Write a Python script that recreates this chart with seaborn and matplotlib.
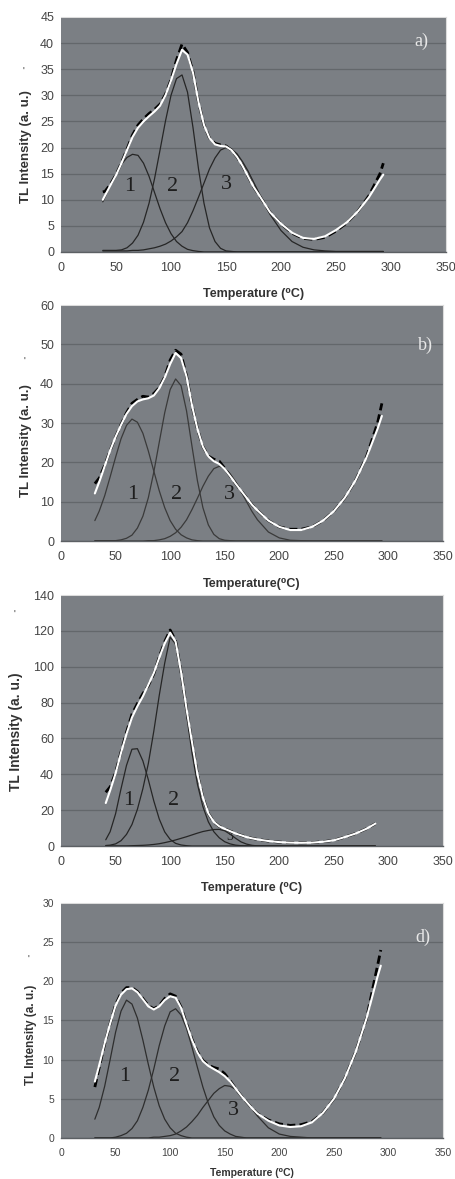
import numpy as np
import pandas as pd
import matplotlib
matplotlib.use("Agg")
import matplotlib.pyplot as plt
import seaborn as sns

# ---- panel a) ----
temp_a = [38, 40, 45, 50, 55, 60, 65, 70, 75, 80, 85, 90, 95, 100, 105, 110, 115, 120, 125, 130,
          135, 140, 145, 150, 155, 160, 165, 170, 175, 180, 190, 200, 210, 220, 230, 240, 250, 260,
          270, 280, 290, 293]
fit_a = [10.0, 10.8, 12.8, 14.7, 17.0, 19.5, 22.0, 23.8, 25.0, 26.0, 26.9, 28.0, 30.0, 32.8, 36.0,
         38.7, 37.8, 34.3, 28.7, 24.3, 21.8, 20.6, 20.3, 20.2, 19.5, 18.2, 16.5, 14.5, 12.5, 10.9,
         7.6, 5.4, 3.7, 2.7, 2.5, 3.0, 4.2, 5.7, 7.8, 10.5, 13.9, 14.8]
exp_a = [11.5, 11.6, 13.0, 14.8, 17.1, 19.7, 22.4, 24.3, 25.5, 26.5, 27.3, 28.3, 30.2, 33.0, 36.8,
         39.8, 38.2, 34.5, 28.7, 24.3, 21.8, 20.8, 20.5, 20.3, 19.5, 18.2, 16.5, 14.5, 12.5, 10.9,
         7.6, 5.4, 3.6, 2.6, 2.4, 2.8, 4.0, 5.6, 7.8, 10.8, 15.0, 17.0]
peak1_a = [9.6, 10.5, 12.8, 14.9, 16.8, 18.1, 18.7, 18.5, 17.0, 14.5, 11.4, 8.3, 5.6, 3.5, 2.0,
           1.1, 0.5, 0.25, 0.1, 0, 0, 0, 0, 0, 0, 0, 0, 0, 0, 0,
           0, 0, 0, 0, 0, 0, 0, 0, 0, 0, 0, 0]
peak2_a = [0.3, 0.3, 0.3, 0.3, 0.4, 0.8, 1.7, 3.2, 5.7, 9.3, 14.0, 19.5, 25.1, 30.0, 33.2,
           33.9, 30.6, 23.8, 15.9, 9.3, 4.6, 2.0, 0.7, 0.2, 0.1, 0, 0, 0, 0, 0,
           0, 0, 0, 0, 0, 0, 0, 0, 0, 0, 0, 0]
peak3_a = [0.2, 0.2, 0.2, 0.2, 0.2, 0.2, 0.3, 0.3, 0.4, 0.6, 0.8, 1.1, 1.5, 2.1, 2.9,
           3.9, 5.6, 7.9, 10.5, 13.2, 15.9, 18.0, 19.5, 20.0, 19.7, 18.8, 17.3, 15.5, 13.4, 11.3,
           7.2, 4.1, 2.0, 0.9, 0.4, 0.2, 0.1, 0.1, 0.1, 0.1, 0.1, 0.1]

# ---- panel b) ----
temp_b = [31, 35, 40, 45, 50, 55, 60, 65, 70, 75, 80, 85, 90, 95, 100, 105, 110, 115, 120, 125,
          130, 135, 140, 145, 150, 155, 160, 165, 170, 175, 180, 190, 200, 210, 220, 230, 240, 250,
          260, 270, 280, 290, 294]
fit_b = [12.1, 15.0, 19.0, 23.0, 26.5, 29.5, 32.3, 34.3, 35.5, 36.0, 36.3, 37.0, 38.8, 41.5, 45.0,
         47.8, 46.5, 41.8, 34.5, 28.5, 24.0, 21.5, 20.3, 19.6, 18.3, 16.5, 14.6, 12.8, 11.0, 9.2,
         7.8, 5.2, 3.6, 2.8, 2.8, 3.6, 5.2, 7.6, 11.0, 15.5, 21.3, 28.5, 31.8]
exp_b = [14.6, 16.0, 19.2, 23.0, 26.5, 29.6, 32.6, 35.0, 36.0, 36.8, 36.6, 37.5, 39.0, 41.7, 46.0,
         48.5, 47.5, 42.0, 34.5, 28.5, 24.0, 21.6, 20.8, 20.3, 18.5, 16.5, 14.6, 12.8, 11.0, 9.2,
         7.8, 5.2, 3.6, 3.0, 3.0, 3.6, 5.2, 7.6, 11.0, 15.5, 21.5, 30.0, 35.0]
peak1_b = [5.2, 7.6, 11.5, 16.3, 21.3, 26.0, 29.4, 31.0, 30.2, 27.4, 22.9, 17.8, 12.8, 8.5, 5.2,
           3.0, 1.6, 0.8, 0.3, 0.1, 0, 0, 0, 0, 0, 0, 0, 0, 0, 0,
           0, 0, 0, 0, 0, 0, 0, 0, 0, 0, 0, 0, 0]
peak2_b = [0.1, 0.1, 0.1, 0.1, 0.1, 0.3, 0.7, 1.5, 3.3, 6.3, 11.0, 17.5, 25.1, 32.6, 38.5,
           41.2, 39.5, 33.1, 24.1, 15.3, 8.5, 4.1, 1.7, 0.6, 0.2, 0.1, 0, 0, 0, 0,
           0, 0, 0, 0, 0, 0, 0, 0, 0, 0, 0, 0, 0]
peak3_b = [0, 0, 0, 0, 0, 0, 0, 0, 0, 0, 0.1, 0.1, 0.3, 0.6, 1.2,
           2.1, 3.5, 5.4, 8.0, 10.9, 13.9, 16.5, 18.4, 19.0, 18.5, 17.1, 15.1, 12.6, 10.0, 7.5,
           5.4, 2.3, 0.8, 0.2, 0.1, 0, 0, 0, 0, 0, 0, 0, 0]

# ---- panel c) ----
temp_c = [41, 45, 50, 55, 60, 65, 70, 75, 80, 85, 90, 95, 100, 105, 110, 115, 120, 125, 130, 135,
          140, 145, 150, 155, 160, 165, 170, 175, 180, 190, 200, 210, 220, 230, 240, 250, 260, 270,
          280, 288]
fit_c = [24.0, 31.0, 40.5, 52.0, 62.5, 71.7, 78.0, 83.5, 90.0, 96.5, 105.0, 113.0, 119.0, 114.0,
         97.0, 76.5, 58.0, 40.0, 27.0, 18.2, 13.5, 11.0, 9.6, 8.3, 7.0, 6.0, 5.0, 4.3, 3.7,
         2.8, 2.2, 1.9, 1.8, 1.9, 2.4, 3.2, 5.0, 7.0, 9.7, 12.5]
exp_c = [30.0, 33.0, 41.0, 52.5, 63.5, 73.5, 79.5, 85.0, 89.5, 96.0, 105.5, 114.0, 120.5, 114.5,
         97.0, 76.5, 58.0, 40.0, 27.0, 18.2, 13.5, 11.0, 9.6, 8.3, 7.0, 6.0, 5.0, 4.3, 3.7,
         2.8, 2.2, 1.9, 1.8, 1.9, 2.4, 3.2, 5.0, 7.0, 9.7, 12.5]
peak1_c = [3.5, 8.0, 18.0, 32.0, 45.0, 54.0, 54.3, 47.5, 37.0, 25.2, 15.1, 7.9, 3.7, 1.5,
           0.6, 0.2, 0, 0, 0, 0, 0, 0, 0, 0, 0, 0, 0, 0, 0,
           0, 0, 0, 0, 0, 0, 0, 0, 0, 0, 0]
peak2_c = [0.3, 0.5, 1.2, 3.0, 6.5, 12.0, 20.5, 32.0, 46.0, 64.0, 84.0, 102.0, 116.5, 112.7,
           96.5, 73.4, 52.0, 34.5, 22.0, 13.5, 8.0, 4.6, 2.4, 1.2, 0.5, 0.2, 0.1, 0, 0,
           0, 0, 0, 0, 0, 0, 0, 0, 0, 0, 0]
peak3_c = [0.1, 0.1, 0.1, 0.1, 0.1, 0.2, 0.3, 0.4, 0.6, 0.9, 1.3, 1.9, 2.6, 3.4,
           4.3, 5.2, 6.2, 7.2, 8.1, 8.7, 9.2, 9.3, 8.5, 6.6, 4.3, 2.3, 1.1, 0.4, 0.1,
           0, 0, 0, 0, 0, 0, 0, 0, 0, 0, 0]

# ---- panel d) ----
temp_d = [31, 35, 40, 45, 50, 55, 60, 65, 70, 75, 80, 85, 90, 95, 100, 105, 110, 115, 120, 125,
          130, 135, 140, 145, 150, 155, 160, 165, 170, 175, 180, 190, 200, 210, 220, 230, 240, 250,
          260, 270, 280, 290, 293]
fit_d = [7.2, 9.3, 12.1, 14.6, 16.9, 18.3, 19.0, 19.1, 18.6, 17.7, 16.8, 16.4, 16.8, 17.6, 18.1,
         17.9, 16.6, 14.5, 12.5, 10.9, 9.8, 9.2, 8.8, 8.4, 7.9, 7.2, 6.3, 5.4, 4.6, 3.8,
         3.1, 2.2, 1.6, 1.4, 1.5, 2.0, 3.2, 5.0, 7.6, 11.0, 15.3, 20.6, 22.0]
exp_d = [6.5, 9.0, 12.0, 14.6, 17.0, 18.5, 19.2, 19.2, 18.7, 17.8, 16.9, 16.5, 16.9, 17.8, 18.4,
         18.1, 16.7, 14.6, 12.6, 11.0, 9.9, 9.3, 9.0, 8.8, 8.2, 7.3, 6.3, 5.4, 4.6, 3.8,
         3.1, 2.3, 1.8, 1.6, 1.7, 2.1, 3.2, 5.0, 7.6, 11.0, 15.3, 22.0, 24.0]
peak1_d = [2.4, 3.9, 6.6, 10.0, 13.5, 16.2, 17.6, 17.1, 15.3, 12.5, 9.4, 6.5, 4.1, 2.4, 1.3,
           0.6, 0.3, 0.1, 0, 0, 0, 0, 0, 0, 0, 0, 0, 0, 0, 0,
           0, 0, 0, 0, 0, 0, 0, 0, 0, 0, 0, 0, 0]
peak2_d = [0, 0, 0, 0, 0.1, 0.3, 0.6, 1.2, 2.2, 3.9, 6.1, 8.8, 11.8, 14.3, 16.1,
           16.5, 15.7, 14.0, 11.6, 9.0, 6.5, 4.4, 2.7, 1.6, 0.9, 0.5, 0.2, 0.1, 0, 0,
           0, 0, 0, 0, 0, 0, 0, 0, 0, 0, 0, 0, 0]
peak3_d = [0, 0, 0, 0, 0, 0, 0, 0, 0, 0, 0, 0.1, 0.1, 0.2, 0.3,
           0.5, 0.9, 1.4, 2.1, 2.9, 3.9, 4.8, 5.7, 6.3, 6.7, 6.6, 6.2, 5.5, 4.6, 3.7,
           2.8, 1.3, 0.5, 0.2, 0.1, 0, 0, 0, 0, 0, 0, 0, 0]

# style
sns.set_style("darkgrid", {"axes.facecolor": "#7b7f84", "grid.color": "#63676b",
                           "axes.edgecolor": "#d9d9d9"})
plt.rcParams['font.family'] = ['Liberation Sans', 'DejaVu Sans']

fig = plt.figure(figsize=(4.56, 11.79), dpi=100)

panels = [
    dict(t=temp_a, e=exp_a, f=fit_a, p=[peak1_a, peak2_a, peak3_a], ymax=45, ystep=5,
         rect=[0.1338, 0.7863, 0.8443, 0.1993], xlab="Temperature (\u2070C)",
         nums=[(62, 12.5), (101.5, 12.5), (150, 12.9)], letter="a)", lpos=(0.937, 0.895),
         ylx=-0.075, yly=0.447, xly=-0.153, tick_y=0.765, comp_col="#262626",
         fs=9, ylfs=9.5, xlfs=9),
    dict(t=temp_b, e=exp_b, f=fit_b, p=[peak1_b, peak2_b, peak3_b], ymax=60, ystep=10,
         rect=[0.1338, 0.5411, 0.8377, 0.2002], xlab="Temperature(\u2070C)",
         nums=[(65.6, 11.9), (106, 11.9), (154, 11.9)], letter="b)", lpos=(0.953, 0.83),
         ylx=-0.075, yly=0.425, xly=-0.157, tick_y=0.76, comp_col="#3a3a3a",
         fs=9, ylfs=9.5, xlfs=9),
    dict(t=temp_c, e=exp_c, f=fit_c, p=[peak1_c, peak2_c, peak3_c], ymax=140, ystep=20,
         rect=[0.1338, 0.2824, 0.8377, 0.2129], xlab="Temperature (\u2070C)",
         nums=[(61.6, 25.5), (102.8, 25.5)], letter=None, lpos=None,
         ylx=-0.0995, yly=0.454, xly=-0.143, tick_y=0.92, comp_col="#262626",
         fs=9, ylfs=10, xlfs=9),
    dict(t=temp_d, e=exp_d, f=fit_d, p=[peak1_d, peak2_d, peak3_d], ymax=30, ystep=5,
         rect=[0.1338, 0.0348, 0.8377, 0.1993], xlab="Temperature (\u2070C)",
         nums=[(58.7, 7.8), (103.7, 7.8), (158, 3.5)], letter="d)", lpos=(0.948, 0.855),
         ylx=-0.063, yly=0.437, xly=-0.129, tick_y=0.76, comp_col="#2e2e2e",
         fs=7.5, ylfs=8.5, xlfs=7.5),
]

for pn in panels:
    ax = fig.add_axes(pn["rect"])
    for comp in pn["p"]:
        sns.lineplot(x=pn["t"], y=comp, ax=ax, color=pn["comp_col"], linewidth=0.9,
                     estimator=None, sort=False, zorder=3)
    sns.lineplot(x=pn["t"], y=pn["e"], ax=ax, color="black", linewidth=2.0,
                 linestyle=(0, (3, 1.5)), estimator=None, sort=False, zorder=4)
    sns.lineplot(x=pn["t"], y=pn["f"], ax=ax, color="white", linewidth=1.5,
                 estimator=None, sort=False, zorder=5)

    ax.set_xlim(0, 350)
    ax.set_ylim(0, pn["ymax"])
    ax.set_xticks(np.arange(0, 351, 50))
    ax.set_yticks(np.arange(0, pn["ymax"] + 1, pn["ystep"]))
    ax.grid(axis="x", visible=False)
    ax.grid(axis="y", linewidth=0.9)
    ax.tick_params(length=0, labelsize=pn["fs"], colors="#454545", pad=5)
    ax.tick_params(axis="x", pad=7)
    for side in ["top", "right"]:
        ax.spines[side].set_visible(True)
        ax.spines[side].set_color("#dcdcdc")
        ax.spines[side].set_linewidth(0.8)
    ax.spines["left"].set_visible(False)
    ax.spines["bottom"].set_visible(True)
    ax.spines["bottom"].set_color("#5c6064")
    ax.spines["bottom"].set_linewidth(1.0)

    ax.set_ylabel("TL Intensity (a. u.)", fontsize=pn["ylfs"], fontweight="bold", color="#333333")
    ax.yaxis.set_label_coords(pn["ylx"], pn["yly"])
    ax.set_xlabel(pn["xlab"], fontsize=pn["xlfs"], fontweight="bold", color="#333333")
    ax.xaxis.set_label_coords(0.5, pn["xly"])
    ax.text(pn["ylx"] - 0.022, pn["tick_y"], "'", transform=ax.transAxes,
            fontsize=7, color="#333333", ha="center", va="center")

    for i, (tx, ty) in enumerate(pn["nums"]):
        ax.text(tx, ty, str(i + 1), family="Liberation Serif", fontsize=16, color="#1e1e1e",
                ha="center", va="center", zorder=2)
    if pn["letter"]:
        ax.text(pn["lpos"][0], pn["lpos"][1], pn["letter"], transform=ax.transAxes,
                family="Liberation Serif", fontsize=13, color="#e8e8e8", ha="center", va="center")
    else:
        # partly hidden "3" under the small third peak
        ax.text(155, 5.2, "3", family="Liberation Serif", fontsize=10, color="#1e1e1e",
                ha="center", va="center", zorder=2)

fig.savefig("out.png", dpi=100)
